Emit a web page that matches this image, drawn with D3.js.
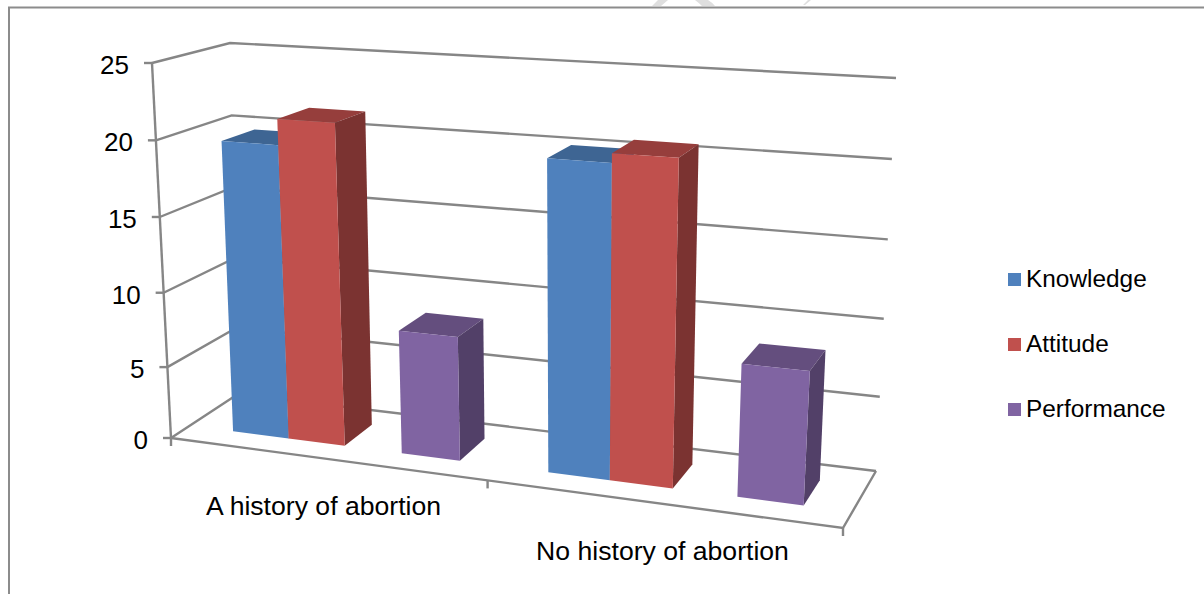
<html>
<head>
<title>mockup</title>
<script src="https://cdn.jsdelivr.net/npm/d3@7"></script>
<style>
body { margin: 0; background: white; }
text { font-family: "Liberation Sans"; font-size: 24.4px; fill: black; }
</style>
</head>
<body>
<svg></svg>
<script>
var categories = ["A history of abortion", "No history of abortion"];
var series_names = ["Knowledge", "Attitude", "Performance"];
var knowledge = [19.7, 20.1];
var attitude = [21.4, 20.7];
var performance = [8.3, 8.5];
var value_ticks = [0, 5, 10, 15, 20, 25];
var series_colors = ["#4F81BD", "#C0504D", "#8064A2"];

// the chart keeps an empty slot between attitude and performance
var slots = ["Knowledge", "Attitude", "gap", "Performance"];
var series_values = [knowledge, attitude, performance];

var svg_width = 1204;
var svg_height = 594;
var grid_color = "#868686";

var svg = d3.select("svg").attr("width", svg_width).attr("height", svg_height);

// corners of the 3d box on screen: front left, front right, back right, back left
var floor_quad = [[171, 438], [843, 528], [876, 471], [238, 394]];
var top_quad = [[152, 63], [868, 106], [896, 78], [230, 43]];

function homography(q) {
	var dx1 = q[1][0] - q[2][0], dx2 = q[3][0] - q[2][0], sx = q[0][0] - q[1][0] + q[2][0] - q[3][0];
	var dy1 = q[1][1] - q[2][1], dy2 = q[3][1] - q[2][1], sy = q[0][1] - q[1][1] + q[2][1] - q[3][1];
	var den = dx1 * dy2 - dx2 * dy1;
	var g = (sx * dy2 - dx2 * sy) / den;
	var h = (dx1 * sy - sx * dy1) / den;
	var a = q[1][0] - q[0][0] + g * q[1][0], b = q[3][0] - q[0][0] + h * q[3][0];
	var d = q[1][1] - q[0][1] + g * q[1][1], e = q[3][1] - q[0][1] + h * q[3][1];
	return function(u, w) {
		var k = g * u + h * w + 1;
		return [(a * u + b * w + q[0][0]) / k, (d * u + e * w + q[0][1]) / k];
	};
}

var floor_map = homography(floor_quad);
var top_map = homography(top_quad);

var y_scale = d3.scalePow().exponent(1.035).domain([0, 25]).range([0, 1]);
var x_scale = d3.scaleBand().domain(categories).range([0, 1]);
var slot_scale = d3.scaleBand().domain(slots).range([0.002, x_scale.bandwidth() + 0.002]).paddingOuter(0.74);
// the homography overdoes the foreshortening along the categories
var u_warp = d3.scalePow().exponent(0.97).domain([0, 1]).range([0, 1]);
var bar_front = 0.27;
var bar_back = 0.72;

// u along the categories, v value, w depth
function project(u, v, w) {
	var a = floor_map(u_warp(u), w), b = top_map(u_warp(u), w), t = y_scale(v);
	return [a[0] + (b[0] - a[0]) * t, a[1] + (b[1] - a[1]) * t];
}

var line = d3.line();

function add_line(pts) {
	svg.append("path").attr("d", line(pts)).style("fill", "none")
		.style("stroke", grid_color).style("stroke-width", 2.4);
}

// watermark scraps along the top of the page
svg.append("path").attr("d", "M652,6L658,0H668L661,6ZM695,0H708Q713,3 715,6H702Q699,3 695,0ZM803,5L808,0H811L805,5Z").style("fill", "#dfdfdf");

// page frame
svg.append("path").attr("d", "M9,594V7.5H1204").style("fill", "none").style("stroke", "#8c8c8c").style("stroke-width", 2);

// walls
value_ticks.forEach(function(v) {
	add_line([project(0, v, 0), project(0, v, 1), project(1, v, 1)]);
	var p = project(0, v, 0);
	add_line([[p[0] - 8, p[1]], p]);
});
add_line([project(0, 0, 0), project(0, 25, 0)]);

// floor
add_line([project(0, 0, 0), project(1, 0, 0), project(1, 0, 1)]);
[0, 0.5, 1].forEach(function(u) {
	var p = project(u, 0, 0);
	add_line([p, [p[0], p[1] + 8]]);
});

function shade(c, k) {
	var r = d3.rgb(c);
	return d3.rgb(r.r * k, r.g * k, r.b * k);
}

// bars
categories.forEach(function(cat, ci) {
	series_names.forEach(function(name, si) {
		var v = series_values[si][ci];
		var u0 = x_scale(cat) + slot_scale(name);
		var u1 = u0 + slot_scale.bandwidth();
		var g = svg.append("g");
		g.append("path").attr("d", line([project(u0, v, bar_front), project(u1, v, bar_front), project(u1, v, bar_back), project(u0, v, bar_back)]) + "Z")
			.style("fill", shade(series_colors[si], 0.78));
		g.append("path").attr("d", line([project(u1, 0, bar_front), project(u1, v, bar_front), project(u1, v, bar_back), project(u1, 0, bar_back)]) + "Z")
			.style("fill", shade(series_colors[si], 0.64));
		g.append("path").attr("d", line([project(u0, 0, bar_front), project(u1, 0, bar_front), project(u1, v, bar_front), project(u0, v, bar_front)]) + "Z")
			.style("fill", series_colors[si]);
	});
});

// axis labels
svg.append("g").selectAll("text").data(value_ticks).enter()
	.append("text")
	.attr("x", function(v) { return project(0, v, 0)[0] - 23; })
	.attr("y", function(v) { return project(0, v, 0)[1] + 11; })
	.style("text-anchor", "end")
	.style("font-size", "26px")
	.text(function(v) { return v; });

var label_x = d3.scalePoint().domain(categories).range([323.5, 662.5]);
var label_y = d3.scalePoint().domain(categories).range([515, 560]);
svg.append("g").selectAll("text").data(categories).enter()
	.append("text")
	.attr("x", function(c) { return label_x(c); })
	.attr("y", function(c) { return label_y(c); })
	.style("text-anchor", "middle")
	.style("font-size", "26.6px")
	.text(function(c) { return c; });

// legend
var legend_y = d3.scalePoint().domain(series_names).range([279.5, 409.5]);
var legend = svg.append("g").selectAll("g").data(series_names).enter().append("g")
	.attr("transform", function(s) { return "translate(1008 " + legend_y(s) + ")"; });
legend.append("rect").attr("x", 0).attr("y", -6.5).attr("width", 13).attr("height", 13)
	.style("fill", function(s, i) { return series_colors[i]; });
legend.append("text").attr("x", 18).attr("y", 7.5).text(function(s) { return s; });
</script>
</body>
</html>
